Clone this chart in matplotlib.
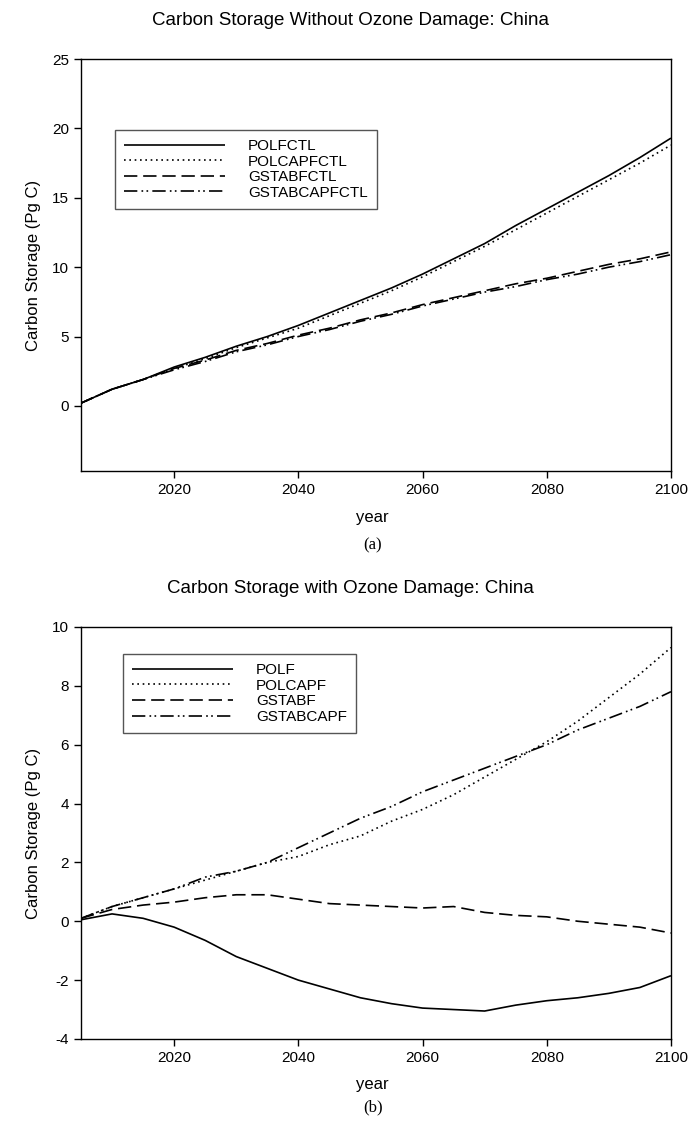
import numpy as np
import matplotlib.pyplot as plt

plt.rcParams['font.family'] = ['Liberation Sans', 'DejaVu Sans']
plt.rcParams['axes.unicode_minus'] = False

# years sampled every 5 years
years = [2005, 2010, 2015, 2020, 2025, 2030, 2035, 2040, 2045, 2050,
         2055, 2060, 2065, 2070, 2075, 2080, 2085, 2090, 2095, 2100]

# (a) without ozone damage
polfctl = [0.2, 1.2, 1.9, 2.8, 3.5, 4.3, 5.0, 5.8, 6.7, 7.6,
           8.5, 9.5, 10.6, 11.7, 13.0, 14.2, 15.4, 16.6, 17.9, 19.3]
polcapfctl = [0.2, 1.2, 1.9, 2.7, 3.4, 4.2, 4.9, 5.6, 6.5, 7.4,
              8.3, 9.3, 10.4, 11.5, 12.7, 13.9, 15.1, 16.3, 17.5, 18.8]
gstabfctl = [0.2, 1.2, 1.9, 2.7, 3.3, 4.0, 4.5, 5.1, 5.6, 6.2,
             6.7, 7.3, 7.8, 8.3, 8.8, 9.2, 9.7, 10.2, 10.6, 11.1]
gstabcapfctl = [0.2, 1.2, 1.9, 2.6, 3.2, 3.9, 4.4, 5.0, 5.5, 6.1,
                6.6, 7.2, 7.7, 8.2, 8.6, 9.1, 9.5, 10.0, 10.4, 10.9]

# (b) with ozone damage
polf = [0.05, 0.25, 0.1, -0.2, -0.65, -1.2, -1.6, -2.0, -2.3, -2.6,
        -2.8, -2.95, -3.0, -3.05, -2.85, -2.7, -2.6, -2.45, -2.25, -1.85]
polcapf = [0.1, 0.5, 0.8, 1.1, 1.4, 1.7, 2.0, 2.2, 2.6, 2.9,
           3.4, 3.8, 4.3, 4.9, 5.5, 6.1, 6.8, 7.6, 8.4, 9.3]
gstabf = [0.1, 0.4, 0.55, 0.65, 0.8, 0.9, 0.9, 0.75, 0.6, 0.55,
          0.5, 0.45, 0.5, 0.3, 0.2, 0.15, 0.0, -0.1, -0.2, -0.4]
gstabcapf = [0.1, 0.5, 0.8, 1.1, 1.5, 1.7, 2.0, 2.5, 3.0, 3.5,
             3.9, 4.4, 4.8, 5.2, 5.6, 6.0, 6.5, 6.9, 7.3, 7.8]

styles = [(0, ()), (0, (1, 2.2)), (0, (8, 3.5)), (0, (8, 2.5, 1, 2, 1, 2.5))]

fig = plt.figure(figsize=(6.9, 11.27), dpi=100)
ax1 = fig.add_axes([0.1174, 0.582, 0.855, 0.3656])
ax2 = fig.add_axes([0.1174, 0.0781, 0.855, 0.3656])


def draw(ax, series, names, ylim, yticks, leg_anchor):
    for s, n, ls in zip(series, names, styles):
        ax.plot(years, s, color='black', lw=1.2, linestyle=ls, label=n)
    ax.set_xlim(2005, 2100)
    ax.set_ylim(*ylim)
    ax.set_xticks([2020, 2040, 2060, 2080, 2100])
    ax.set_yticks(yticks)
    ax.tick_params(direction='out', length=5, width=1, labelsize=11,
                   top=False, right=False)
    for sp in ax.spines.values():
        sp.set_linewidth(1.0)
    ax.set_ylabel('Carbon Storage (Pg C)', fontsize=12, labelpad=8)
    leg = ax.legend(loc='upper left', bbox_to_anchor=leg_anchor,
                    fontsize=11, handlelength=6.6, handletextpad=1.5,
                    fancybox=False, framealpha=1, borderpad=0.6,
                    labelspacing=0.1, borderaxespad=0)
    leg.get_frame().set_edgecolor('#555555')
    leg.get_frame().set_linewidth(1.0)


draw(ax1, [polfctl, polcapfctl, gstabfctl, gstabcapfctl],
     ['POLFCTL', 'POLCAPFCTL', 'GSTABFCTL', 'GSTABCAPFCTL'],
     (-4.7, 25), [0, 5, 10, 15, 20, 25], (0.058, 0.828))
draw(ax2, [polf, polcapf, gstabf, gstabcapf],
     ['POLF', 'POLCAPF', 'GSTABF', 'GSTABCAPF'],
     (-4, 10), [-4, -2, 0, 2, 4, 6, 8, 10], (0.071, 0.934))

fig.text(0.508, 0.982, 'Carbon Storage Without Ozone Damage: China',
         ha='center', va='center', fontsize=13.5)
fig.text(0.508, 0.478, 'Carbon Storage with Ozone Damage: China',
         ha='center', va='center', fontsize=13.5)
fig.text(0.54, 0.541, 'year', ha='center', va='center', fontsize=12)
fig.text(0.54, 0.0373, 'year', ha='center', va='center', fontsize=12)
fig.text(0.54, 0.516, '(a)', ha='center', va='center', fontsize=12,
         family='Liberation Serif')
fig.text(0.54, 0.0177, '(b)', ha='center', va='center', fontsize=12,
         family='Liberation Serif')

fig.savefig('out.png', dpi=100)
